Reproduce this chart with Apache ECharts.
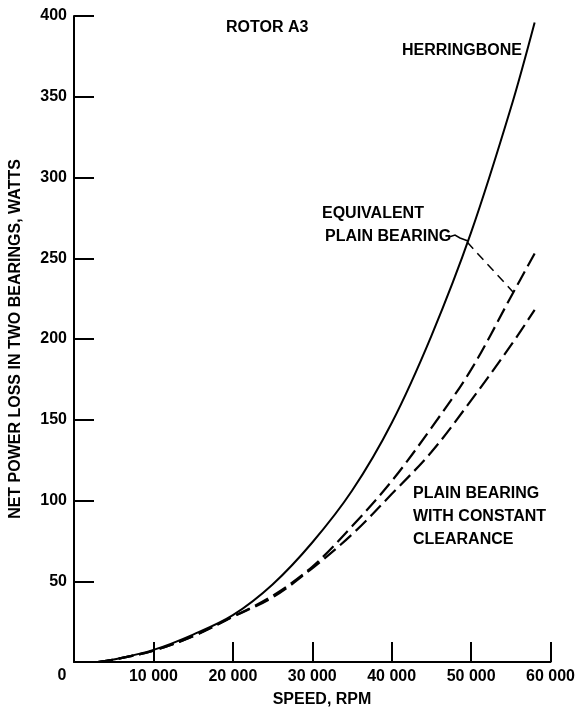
<!DOCTYPE html>
<html>
<head>
<meta charset="utf-8">
<script src="https://cdn.jsdelivr.net/npm/echarts@6/dist/echarts.min.js"></script>
<style>html,body{margin:0;padding:0;background:#fff}#c{width:578px;height:712px}</style>
</head>
<body>
<div id="c"></div>
<script>
// ---- data ----
const speeds = [3000, 5000, 10000, 15000, 20000, 25000, 30000, 35000, 40000, 45000, 50000, 55000, 58000];
const herringbone = [0, 1.5, 7.5, 17, 29, 48, 74, 106, 148, 202, 266, 343, 396];
const equivalentPlain = [0, 1.5, 7, 16, 28, 41, 59, 84, 112, 145, 181, 226, 253];
const constantClearance = [0, 1.5, 7, 16, 28, 40, 58, 79, 104, 130, 162, 196, 218];
const xTicks = [0, 10000, 20000, 30000, 40000, 50000, 60000];
const yTicks = [0, 50, 100, 150, 200, 250, 300, 350, 400];
const leader = [[49500, 260], [55300, 229]];

const FONT = "'Liberation Sans', Arial, sans-serif";
const pairs = (ys) => speeds.map((s, i) => [s, ys[i]]);

const chart = echarts.init(document.getElementById('c'));
const txt = (text, x, y, align) => ({
  type: 'text', x: x, y: y,
  style: { text: text, fill: '#000', font: 'bold 16px ' + FONT, textAlign: align || 'left', textVerticalAlign: 'middle' }
});

chart.setOption({
  animation: false,
  backgroundColor: '#fff',
  grid: { left: 73, right: 26, top: 16, bottom: 50 },
  xAxis: {
    type: 'value', min: 0, max: 60000, interval: 10000,
    axisLine: { lineStyle: { color: '#000', width: 2 } },
    axisTick: { inside: true, length: 20, lineStyle: { color: '#000', width: 2 } },
    axisLabel: {
      color: '#000', fontFamily: FONT, fontSize: 16, fontWeight: 'bold', margin: 7,
      formatter: v => v === 0 ? '' : String(v).replace(/(\d+)(\d{3})$/, '$1 $2')
    },
    splitLine: { show: false }
  },
  yAxis: {
    type: 'value', min: 0, max: 400, interval: 50,
    name: 'NET POWER LOSS IN TWO BEARINGS, WATTS',
    nameLocation: 'middle', nameGap: 50, nameRotate: 90,
    nameTextStyle: { color: '#000', fontFamily: FONT, fontSize: 16, fontWeight: 'bold' },
    axisLine: { show: true, lineStyle: { color: '#000', width: 2 } },
    axisTick: { show: true, inside: true, length: 20, lineStyle: { color: '#000', width: 2 } },
    axisLabel: {
      color: '#000', fontFamily: FONT, fontSize: 16, fontWeight: 'bold', margin: 7,
      formatter: v => v === 0 ? '' : String(v)
    },
    splitLine: { show: false }
  },
  series: [
    { type: 'line', name: 'HERRINGBONE', data: pairs(herringbone), smooth: 0.35, showSymbol: false,
      lineStyle: { color: '#000', width: 2 } },
    { type: 'line', name: 'EQUIVALENT PLAIN BEARING', data: pairs(equivalentPlain), smooth: 0.35, showSymbol: false,
      lineStyle: { color: '#000', width: 2.2, type: [15, 6] },
      markLine: { symbol: 'none', silent: true, label: { show: false },
        lineStyle: { color: '#000', width: 1.5, type: [9, 6] },
        data: [[{ coord: leader[0] }, { coord: leader[1] }]] } },
    { type: 'line', name: 'PLAIN BEARING WITH CONSTANT CLEARANCE', data: pairs(constantClearance), smooth: 0.35, showSymbol: false,
      lineStyle: { color: '#000', width: 2.2, type: [15, 6] } }
  ],
  graphic: [
    txt('0', 62, 676, 'center'),
    txt('SPEED, RPM', 322, 700, 'center'),
    txt('ROTOR A3', 226, 28),
    txt('HERRINGBONE', 402, 51),
    txt('EQUIVALENT', 322, 214),
    txt('PLAIN BEARING', 325, 237),
    { type: 'polyline', shape: { points: [[449, 237], [455, 235], [460, 238], [468, 241]] },
      style: { stroke: '#000', lineWidth: 1.5, fill: null } },
    txt('PLAIN BEARING', 413, 494),
    txt('WITH CONSTANT', 413, 517),
    txt('CLEARANCE', 413, 540)
  ]
});
</script>
</body>
</html>
